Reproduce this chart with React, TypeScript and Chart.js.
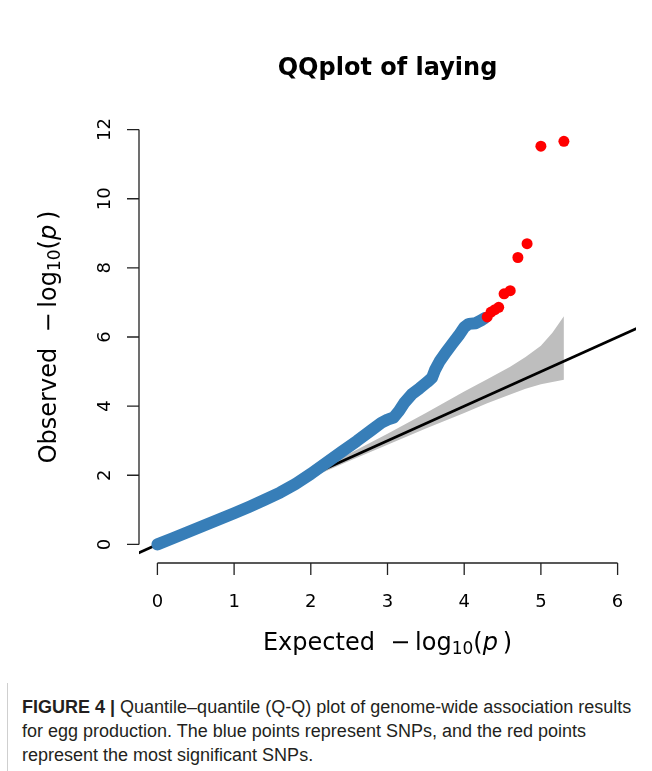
import React, { useEffect, useRef } from "react";
import { Chart, registerables } from "chart.js";

Chart.register(...registerables);

// Blue points: expected vs observed -log10(p)
const BLUE_X = [0.0, 0.2, 0.4, 0.6, 0.8, 1.0, 1.2, 1.4, 1.6, 1.8, 2.0, 2.2, 2.4, 2.6, 2.8, 2.92, 3.0, 3.08, 3.15, 3.22, 3.32, 3.42, 3.52, 3.58, 3.62, 3.68, 3.76, 3.85, 3.93, 4.0, 4.06, 4.15, 4.22, 4.27];
const BLUE_Y = [0.0, 0.18, 0.36, 0.54, 0.72, 0.9, 1.09, 1.29, 1.5, 1.75, 2.04, 2.36, 2.68, 2.99, 3.32, 3.52, 3.61, 3.67, 3.86, 4.1, 4.35, 4.52, 4.7, 4.82, 5.05, 5.3, 5.55, 5.82, 6.05, 6.28, 6.38, 6.4, 6.48, 6.55];

// Red points: most significant SNPs
const RED_X = [4.3, 4.35, 4.4, 4.45, 4.52, 4.6, 4.7, 4.82, 5.0, 5.3];
const RED_Y = [6.58, 6.72, 6.79, 6.86, 7.25, 7.34, 8.3, 8.7, 11.52, 11.66];

// Confidence band
const BAND_X = [0, 1, 2, 2.5, 3, 3.5, 4, 4.3, 4.6, 4.8, 5.0, 5.15, 5.3];
const BAND_UPPER = [0.02, 1.04, 2.08, 2.62, 3.2, 3.8, 4.42, 4.78, 5.14, 5.42, 5.75, 6.12, 6.6];
const BAND_LOWER = [0.0, 0.96, 1.93, 2.41, 2.88, 3.35, 3.8, 4.08, 4.34, 4.5, 4.63, 4.7, 4.76];

// Reference line y = x
const ABLINE_X = [-1, 7];

const X_TICKS = [0, 1, 2, 3, 4, 5, 6];
const Y_TICKS = [0, 2, 4, 6, 8, 10, 12];

const TITLE = "QQplot of laying";

const FONT = "'DejaVu Sans', sans-serif";

type Run = { text: string; font: string; dy?: number };

function drawRuns(ctx: CanvasRenderingContext2D, runs: Run[], x: number, y: number, angle: number) {
  ctx.save();
  ctx.translate(x, y);
  ctx.rotate(angle);
  ctx.textAlign = "left";
  ctx.textBaseline = "alphabetic";
  const widths = runs.map((r) => {
    ctx.font = r.font;
    return ctx.measureText(r.text).width;
  });
  const total = widths.reduce((a, b) => a + b, 0);
  let cur = -total / 2;
  runs.forEach((r, i) => {
    ctx.font = r.font;
    ctx.fillText(r.text, cur, r.dy || 0);
    cur += widths[i];
  });
  ctx.restore();
}

function axisTitleRuns(word: string): Run[] {
  const f = `24px ${FONT}`;
  return [
    { text: word + "  ", font: f },
    { text: "\u2212", font: f },
    { text: "\u2009log", font: f },
    { text: "10", font: `17px ${FONT}`, dy: 4 },
    { text: "(", font: f },
    { text: "p", font: `italic 24px ${FONT}` },
    { text: "\u2009)", font: f },
  ];
}

const axesPlugin = {
  id: "rAxes",
  beforeDatasetsDraw(chart: any) {
    const ctx: CanvasRenderingContext2D = chart.ctx;
    const xs = chart.scales.x;
    const ys = chart.scales.y;
    const area = chart.chartArea;
    const axisY = area.bottom + 2;
    const axisX = area.left;
    ctx.save();
    ctx.strokeStyle = "#222";
    ctx.lineWidth = 1.3;
    ctx.beginPath();
    ctx.moveTo(xs.getPixelForValue(X_TICKS[0]), axisY);
    ctx.lineTo(xs.getPixelForValue(X_TICKS[X_TICKS.length - 1]), axisY);
    X_TICKS.forEach((t) => {
      const px = xs.getPixelForValue(t);
      ctx.moveTo(px, axisY);
      ctx.lineTo(px, axisY + 12);
    });
    ctx.moveTo(axisX, ys.getPixelForValue(Y_TICKS[0]));
    ctx.lineTo(axisX, ys.getPixelForValue(Y_TICKS[Y_TICKS.length - 1]));
    Y_TICKS.forEach((t) => {
      const py = ys.getPixelForValue(t);
      ctx.moveTo(axisX, py);
      ctx.lineTo(axisX - 12, py);
    });
    ctx.stroke();

    ctx.fillStyle = "#000";
    ctx.font = `18px ${FONT}`;
    ctx.textAlign = "center";
    ctx.textBaseline = "alphabetic";
    X_TICKS.forEach((t) => {
      ctx.fillText(String(t), xs.getPixelForValue(t), 607);
    });
    Y_TICKS.forEach((t) => {
      ctx.save();
      ctx.translate(110, ys.getPixelForValue(t));
      ctx.rotate(-Math.PI / 2);
      ctx.fillText(String(t), 0, 0);
      ctx.restore();
    });

    // Title
    ctx.font = `bold 24px ${FONT}`;
    ctx.textAlign = "center";
    ctx.fillText(TITLE, (area.left + area.right) / 2, 75);

    // Axis titles
    drawRuns(ctx, axisTitleRuns("Expected"), (area.left + area.right) / 2, 650, 0);
    drawRuns(ctx, axisTitleRuns("Observed"), 56, (area.top + area.bottom) / 2, -Math.PI / 2);
    ctx.restore();
  },
};

export default function App() {
  const ref = useRef<HTMLCanvasElement | null>(null);
  useEffect(() => {
    if (!ref.current) return;
    const chart = new Chart(ref.current, {
      type: "scatter",
      data: {
        datasets: [
          {
            label: "red",
            data: RED_X.map((x, i) => ({ x, y: RED_Y[i] })),
            backgroundColor: "#ff0000",
            borderWidth: 0,
            pointRadius: 5.5,
            showLine: false,
            order: 0,
          },
          {
            label: "blue",
            data: BLUE_X.map((x, i) => ({ x, y: BLUE_Y[i] })),
            borderColor: "#377eb8",
            backgroundColor: "#377eb8",
            borderWidth: 12,
            borderCapStyle: "round",
            borderJoinStyle: "round",
            pointRadius: 0,
            showLine: true,
            tension: 0,
            order: 1,
          },
          {
            label: "abline",
            data: ABLINE_X.map((x) => ({ x, y: x })),
            borderColor: "#000",
            borderWidth: 2.8,
            pointRadius: 0,
            showLine: true,
            clip: 0,
            order: 2,
          },
          {
            label: "upper",
            data: BAND_X.map((x, i) => ({ x, y: BAND_UPPER[i] })),
            borderWidth: 0,
            borderColor: "rgba(0,0,0,0)",
            backgroundColor: "#bebebe",
            pointRadius: 0,
            showLine: true,
            fill: "+1",
            order: 3,
          },
          {
            label: "lower",
            data: BAND_X.map((x, i) => ({ x, y: BAND_LOWER[i] })),
            borderWidth: 0,
            borderColor: "rgba(0,0,0,0)",
            backgroundColor: "#bebebe",
            pointRadius: 0,
            showLine: true,
            order: 4,
          },
        ] as any,
      },
      options: {
        responsive: false,
        animation: false,
        events: [],
        layout: { padding: { left: 139, right: 16, top: 113, bottom: 119 } },
        plugins: { legend: { display: false }, tooltip: { enabled: false }, title: { display: false } },
        scales: {
          x: { type: "linear", min: -0.24, max: 6.24, display: false },
          y: { type: "linear", min: -0.48, max: 12.48, display: false },
        },
      },
      plugins: [axesPlugin],
    });
    return () => chart.destroy();
  }, []);

  return (
    <div style={{ position: "absolute", left: 0, top: 0, width: 652, height: 771, background: "#fff" }}>
      <canvas ref={ref} width={652} height={680} style={{ display: "block", width: 652, height: 680 }} />
      <div style={{ position: "absolute", left: 7, top: 683, width: 1, height: 88, background: "#cfcfcf" }} />
      <div
        style={{
          position: "absolute",
          left: 22,
          top: 695,
          width: 630,
          fontFamily: "'Liberation Sans', Arial, sans-serif",
          fontSize: 18,
          lineHeight: "24px",
          color: "#231f20",
          whiteSpace: "nowrap",
        }}
      >
        <b>FIGURE 4 |</b> Quantile–quantile (Q-Q) plot of genome-wide association results
        <br />
        for egg production. The blue points represent SNPs, and the red points
        <br />
        represent the most significant SNPs.
      </div>
    </div>
  );
}
